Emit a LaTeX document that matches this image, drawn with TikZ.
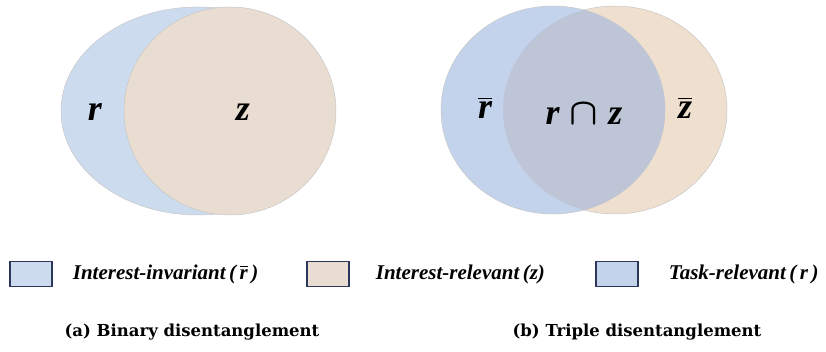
\documentclass[tikz,border=0pt]{standalone}
\usepackage{amsmath}
\usepackage{graphicx}
\usepackage{fontspec}
\setmainfont{Liberation Serif}
\newfontfamily\capfont{DejaVu Serif}
\usetikzlibrary{positioning}

\definecolor{invblue}{RGB}{205,219,238}
\definecolor{relbeige}{RGB}{233,221,209}
\definecolor{taskblue}{RGB}{196,211,236}
\definecolor{sideb}{RGB}{238,223,206}
\definecolor{overlap}{RGB}{189,197,215}
\definecolor{keyline}{RGB}{45,55,90}

\tikzset{
    setline/.style={draw=black!22, line width=0.5pt},
    keybox/.style={draw=keyline, line width=1.3pt, minimum width=42pt, minimum height=25pt, inner sep=0pt},
    keytext/.style={font=\fontsize{21}{24}\selectfont\bfseries\itshape, anchor=west, inner sep=0pt},
    setlabel/.style={font=\fontsize{36}{40}\selectfont\bfseries\itshape, inner sep=0pt},
    subcap/.style={font=\capfont\fontsize{16.5}{19}\selectfont\bfseries, inner sep=0pt}
}

\newcommand{\barvar}[1]{$\overline{\hbox{\bfseries\itshape #1}}$}

\begin{document}
\begin{tikzpicture}[x=1pt,y=-1pt]
\useasboundingbox (0,0) rectangle (826,352);

% (a) binary
\draw[setline, fill=invblue] (198,111) ellipse [x radius=137pt, y radius=104pt];
\draw[setline, fill=relbeige] (230,111) ellipse [x radius=106pt, y radius=104pt];
\node[setlabel] (ra) at (95,112) {r};
\node[setlabel] (za) at (243,112) {z};

% (b) triple
\draw[setline, fill=sideb] (615,110) ellipse [x radius=112pt, y radius=104pt];
\draw[setline, fill=taskblue] (553,110) ellipse [x radius=112pt, y radius=104pt];
\begin{scope}
  \clip (615,110) ellipse [x radius=112pt, y radius=104pt];
  \fill[overlap] (553,110) ellipse [x radius=112pt, y radius=104pt];
\end{scope}
\node[setlabel] (rb) at (485,108) {\barvar{r}};
\node[setlabel] (rz) at (584,114) {r\;\scalebox{1.5}{$\boldsymbol{\cap}$}\;z};
\node[setlabel] (zb) at (685,108) {\barvar{z}};

% legend
\node[keybox, fill=invblue] (k1) at (31,274) {};
\node[keytext, right=20pt of k1] (t1) {Interest-invariant\,(\,\barvar{r}\,)};
\node[keybox, fill=relbeige] (k2) at (328,274) {};
\node[keytext, right=26pt of k2] (t2) {Interest-relevant\,(z)};
\node[keybox, fill=taskblue] (k3) at (617,274) {};
\node[keytext, right=30pt of k3] (t3) {Task-relevant\,(\,r\,)};

% captions
\node[subcap] (capa) at (192,332) {(a) Binary disentanglement};
\node[subcap] (capb) at (637,332) {(b) Triple disentanglement};
\end{tikzpicture}
\end{document}
